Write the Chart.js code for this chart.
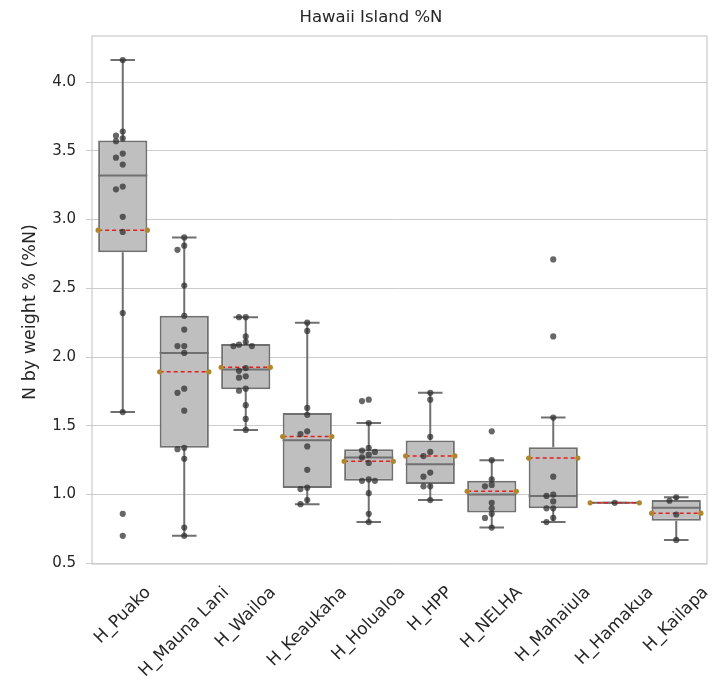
<!DOCTYPE html>
<html>
<head>
<meta charset="utf-8">
<title>Hawaii Island %N</title>
<script src="https://cdn.jsdelivr.net/npm/chart.js@4.4.1/dist/chart.umd.min.js"></script>
<style>
  html, body { margin: 0; padding: 0; background: #ffffff; }
  #wrap { width: 723px; height: 684px; }
</style>
</head>
<body>
<div id="wrap"><canvas id="chart" width="723" height="684"></canvas></div>
<script>
// Sites along the x axis
const sites = ['H_Puako', 'H_Mauna Lani', 'H_Wailoa', 'H_Keaukaha', 'H_Holualoa',
               'H_HPP', 'H_NELHA', 'H_Mahaiula', 'H_Hamakua', 'H_Kailapa'];

// %N measurements per site
const puako     = [4.16, 3.64, 3.61, 3.59, 3.57, 3.48, 3.45, 3.40, 3.24, 3.22, 3.02, 2.91, 2.32, 1.60, 0.86, 0.70];
const maunaLani = [2.87, 2.81, 2.78, 2.52, 2.30, 2.20, 2.08, 2.08, 2.03, 1.77, 1.74, 1.61, 1.34, 1.33, 1.26, 0.76, 0.70];
const wailoa    = [2.29, 2.29, 2.15, 2.11, 2.09, 2.08, 2.08, 1.92, 1.90, 1.86, 1.85, 1.77, 1.755, 1.65, 1.55, 1.47];
const keaukaha  = [2.25, 2.19, 1.63, 1.58, 1.46, 1.44, 1.35, 1.18, 1.05, 1.04, 0.96, 0.93];
const holualoa  = [1.69, 1.68, 1.52, 1.34, 1.32, 1.31, 1.29, 1.27, 1.23, 1.11, 1.10, 1.10, 1.01, 0.86, 0.80];
const hpp       = [1.74, 1.69, 1.42, 1.31, 1.28, 1.16, 1.13, 1.06, 1.06, 0.96];
const nelha     = [1.46, 1.25, 1.11, 1.07, 1.06, 0.94, 0.90, 0.86, 0.83, 0.76];
const mahaiula  = [2.71, 2.15, 1.56, 1.13, 1.00, 0.99, 0.95, 0.90, 0.90, 0.83, 0.80];
const hamakua   = [0.94];
const kailapa   = [0.98, 0.955, 0.855, 0.67];

// y-axis tick values
const yTicks = [0.5, 1.0, 1.5, 2.0, 2.5, 3.0, 3.5, 4.0];

const groups = [puako, maunaLani, wailoa, keaukaha, holualoa, hpp, nelha, mahaiula, hamakua, kailapa];

// Linear-interpolated percentile (same rule as numpy's default)
function percentile(sorted, p) {
  const pos = (sorted.length - 1) * p;
  const lo = Math.floor(pos), hi = Math.ceil(pos);
  return sorted[lo] + (sorted[hi] - sorted[lo]) * (pos - lo);
}

function boxStats(values) {
  const s = [...values].sort((a, b) => a - b);
  const q1 = percentile(s, 0.25), med = percentile(s, 0.5), q3 = percentile(s, 0.75);
  const iqr = q3 - q1;
  const inside = s.filter(v => v >= q1 - 1.5 * iqr && v <= q3 + 1.5 * iqr);
  const mean = s.reduce((a, b) => a + b, 0) / s.length;
  return { q1, med, q3, lo: inside[0], hi: inside[inside.length - 1], mean };
}

const stats = groups.map(boxStats);

// Spread overlapping dots sideways so they stay visible
function stripPoints(values, i) {
  const offsets = [0, -0.11, 0.1, -0.2, 0.2];
  const placed = [];
  values.forEach(v => {
    let off = 0;
    for (const o of offsets) {
      const clash = placed.some(p => Math.abs(p.y - v) < 0.035 && Math.abs(p.off - o) < 0.06);
      if (!clash) { off = o; break; }
    }
    placed.push({ y: v, off });
  });
  return placed.map(p => ({ x: i + p.off, y: p.y }));
}

const pointData = groups.flatMap((g, i) => stripPoints(g, i));
const boxData = stats.map((s, i) => ({ x: i, y: [s.q1, s.q3] }));
const whiskerData = stats.flatMap((s, i) => [
  { x: i, y: s.hi }, { x: i, y: s.q3 }, { x: i, y: null },
  { x: i, y: s.q1 }, { x: i, y: s.lo }, { x: i, y: null }
]);
const capData = stats.flatMap((s, i) => [
  { x: i - 0.2, y: s.hi }, { x: i + 0.2, y: s.hi }, { x: i, y: null },
  { x: i - 0.2, y: s.lo }, { x: i + 0.2, y: s.lo }, { x: i, y: null }
]);
const medianData = stats.flatMap((s, i) => [
  { x: i - 0.4, y: s.med }, { x: i + 0.4, y: s.med }, { x: i, y: null }
]);
const meanData = stats.flatMap((s, i) => [
  { x: i - 0.4, y: s.mean }, { x: i + 0.4, y: s.mean }, { x: i, y: null }
]);

const TEXT = '#262626';
const EDGE = '#707070';
const FONT = '"DejaVu Sans", "Liberation Sans", sans-serif';
const TITLE = 'Hawaii Island %N';
const Y_LABEL = 'N by weight % (%N)';

// Light frame around the plot, the titles and the rotated site names
const frameAndLabels = {
  id: 'frameAndLabels',
  beforeDatasetsDraw(chart) {
    const { ctx, chartArea: a } = chart;
    ctx.save();
    ctx.strokeStyle = '#cccccc';
    ctx.lineWidth = 1.25;
    ctx.strokeRect(a.left, a.top, a.right - a.left, a.bottom - a.top);
    ctx.restore();
  },
  afterDraw(chart) {
    const { ctx, chartArea: a, scales: { x } } = chart;
    ctx.save();
    ctx.fillStyle = TEXT;
    ctx.textAlign = 'center';
    ctx.textBaseline = 'middle';
    ctx.font = '16.5px ' + FONT;
    ctx.fillText(TITLE, 371, 18);

    ctx.save();
    ctx.font = '17.5px ' + FONT;
    ctx.translate(30, 312);
    ctx.rotate(-Math.PI / 2);
    ctx.fillText(Y_LABEL, 0, 0);
    ctx.restore();

    const size = 17;
    ctx.font = size + 'px ' + FONT;
    sites.forEach((name, i) => {
      const w = ctx.measureText(name).width;
      const half = (w + size * 1.15) * Math.SQRT1_2 / 2;
      ctx.save();
      ctx.translate(x.getPixelForValue(i), a.bottom + 19 + half);
      ctx.rotate(-Math.PI / 4);
      ctx.fillText(name, 0, 0);
      ctx.restore();
    });
    ctx.restore();
  }
};

const lineStyle = { type: 'line', showLine: true, spanGaps: false, pointRadius: 0,
                    borderColor: EDGE, borderWidth: 2, fill: false };

new Chart(document.getElementById('chart'), {
  data: {
    datasets: [
      { type: 'scatter', data: pointData, order: 0, pointRadius: 3.1, borderWidth: 0,
        backgroundColor: 'rgba(45,45,45,0.72)' },
      { ...lineStyle, data: meanData, order: 1, borderColor: '#e3201b', borderWidth: 1.5,
        borderDash: [4, 3], pointRadius: 2.6, pointBorderWidth: 0,
        pointBackgroundColor: '#b0862a' },
      { ...lineStyle, data: medianData, order: 2 },
      { ...lineStyle, data: capData, order: 3 },
      { ...lineStyle, data: whiskerData, order: 4 },
      { type: 'bar', data: boxData, order: 5, backgroundColor: '#bfbfbf', borderColor: EDGE,
        borderWidth: 2, borderSkipped: false, barPercentage: 1, categoryPercentage: 0.8 }
    ]
  },
  options: {
    responsive: false,
    animation: false,
    devicePixelRatio: 1,
    layout: { padding: { left: 0, right: 16, top: 36, bottom: 0 } },
    plugins: {
      legend: { display: false },
      tooltip: { enabled: false },
      title: { display: false }
    },
    scales: {
      x: {
        type: 'linear', min: -0.5, max: 9.5, offset: false,
        ticks: { display: false },
        grid: { display: false, offset: false },
        border: { display: false },
        afterFit(scale) { scale.height = 120; }
      },
      y: {
        type: 'linear', min: 0.495, max: 4.335,
        afterBuildTicks(scale) { scale.ticks = yTicks.map(v => ({ value: v })); },
        ticks: {
          color: TEXT, padding: 10,
          font: { family: FONT, size: 15 },
          callback: v => Number(v).toFixed(1)
        },
        grid: { color: '#cccccc', lineWidth: 1, tickLength: 6 },
        border: { display: false },
        title: { display: false },
        afterFit(scale) { scale.width = 92; }
      }
    }
  },
  plugins: [frameAndLabels]
});
</script>
</body>
</html>
